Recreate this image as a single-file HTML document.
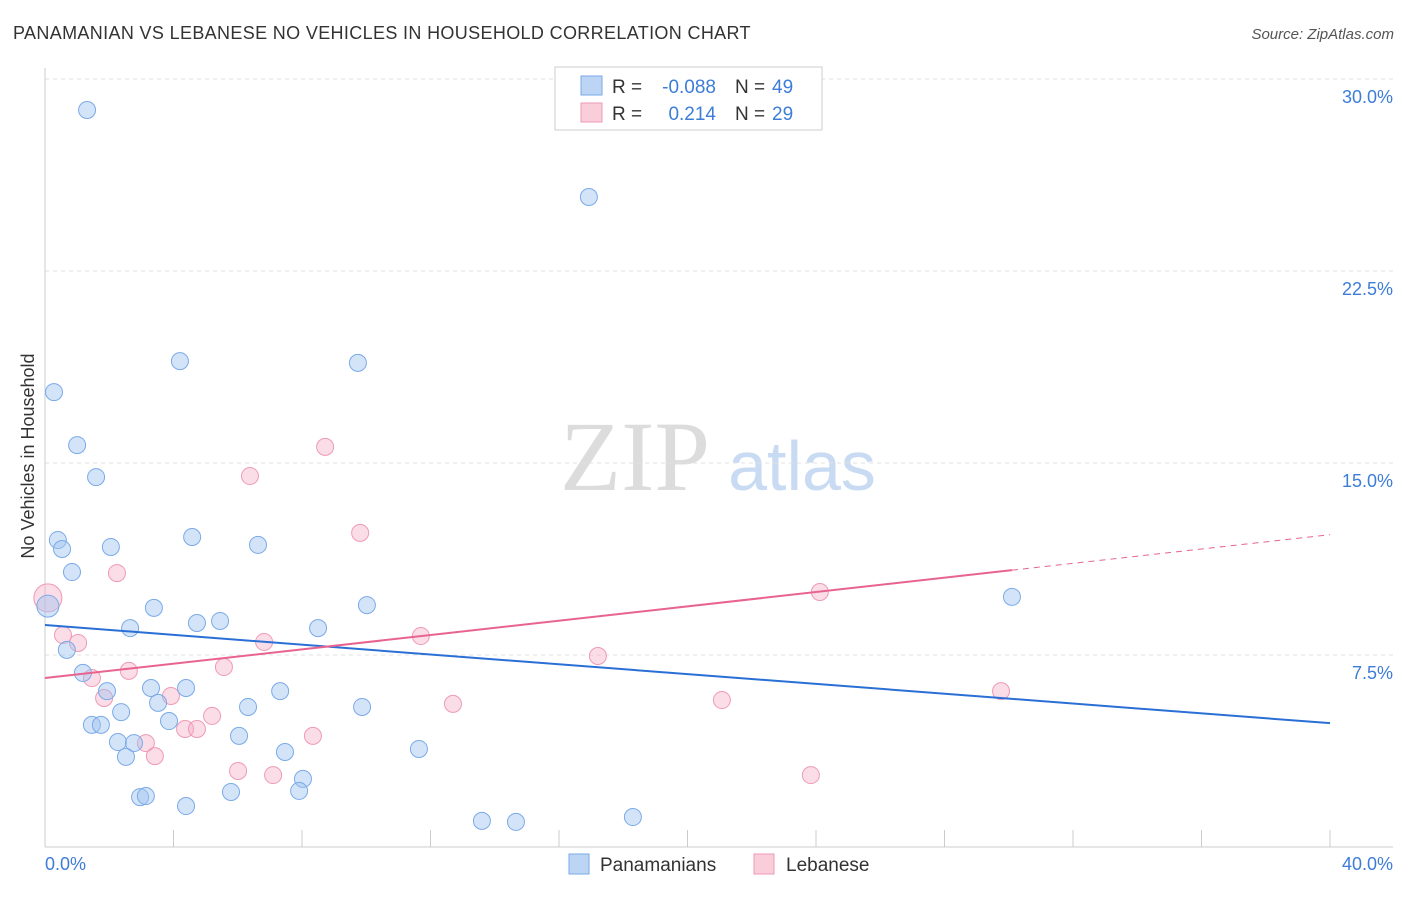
<!DOCTYPE html>
<html><head><meta charset="utf-8"><style>
body{margin:0;background:#fff;font-family:"Liberation Sans",sans-serif}
svg text{font-family:"Liberation Sans",sans-serif}
</style></head><body>
<svg id="c" width="1406" height="892" xmlns="http://www.w3.org/2000/svg">
<text x="13" y="39" font-size="18" fill="#333" letter-spacing="0.35">PANAMANIAN VS LEBANESE NO VEHICLES IN HOUSEHOLD CORRELATION CHART</text>
<text x="1394" y="39" font-size="15" fill="#555" text-anchor="end" font-style="italic">Source: ZipAtlas.com</text>
<text x="34" y="456" font-size="18" fill="#333" text-anchor="middle" transform="rotate(-90 34 456)">No Vehicles in Household</text>
<g><text x="635" y="490" font-size="100" fill="#dcdcdc" text-anchor="middle" style="font-family:'Liberation Serif',serif">ZIP</text><text x="802" y="490" font-size="70" fill="#c9dbf3" text-anchor="middle">atlas</text></g>
<g id="grid"></g><g id="marks"></g><g id="lines"></g>
<g>
<rect x="555" y="67" width="267" height="63" fill="#fff" stroke="#ccc"/>
<rect x="581" y="76" width="21" height="19" fill="#bcd5f5" stroke="#7aaae8"/>
<rect x="581" y="103" width="21" height="19" fill="#f9cdda" stroke="#ef9ab5"/>
<text x="612" y="93" font-size="19" fill="#333">R =</text>
<text x="716" y="93" font-size="19" fill="#3d7dd8" text-anchor="end">-0.088</text>
<text x="735" y="93" font-size="19" fill="#333">N =</text>
<text x="772" y="93" font-size="19" fill="#3d7dd8">49</text>
<text x="612" y="120" font-size="19" fill="#333">R =</text>
<text x="716" y="120" font-size="19" fill="#3d7dd8" text-anchor="end">0.214</text>
<text x="735" y="120" font-size="19" fill="#333">N =</text>
<text x="772" y="120" font-size="19" fill="#3d7dd8">29</text>
</g>
<g>
<rect x="569" y="854" width="20" height="20" fill="#bcd5f5" stroke="#7aaae8"/>
<text x="600" y="871" font-size="19" fill="#333">Panamanians</text>
<rect x="754" y="854" width="20" height="20" fill="#f9cdda" stroke="#ef9ab5"/>
<text x="786" y="871" font-size="19" fill="#333">Lebanese</text>
</g>
</svg>
<script>
const blueX=[1.31,16.93,4.20,9.74,0.28,1.00,1.59,0.40,0.53,2.05,4.58,6.63,0.84,0.09,3.39,10.02,4.73,5.45,2.65,8.50,30.10,0.68,1.18,1.93,3.30,4.39,7.32,3.52,6.32,9.87,2.37,3.86,1.46,1.74,6.04,2.27,2.77,7.47,11.64,2.52,8.03,2.96,3.14,4.39,5.79,7.91,13.60,14.66,18.30];
const blueY=[28.79,25.39,18.98,18.91,17.77,15.70,14.45,11.99,11.64,11.72,12.11,11.80,10.74,9.41,9.34,9.45,8.75,8.83,8.55,8.55,9.77,7.70,6.80,6.09,6.21,6.21,6.09,5.63,5.47,5.47,5.27,4.92,4.77,4.77,4.34,4.10,4.06,3.71,3.83,3.52,2.66,1.95,1.99,1.60,2.15,2.19,1.02,0.98,1.17];
const pinkX=[0.09,0.56,1.03,2.24,2.61,1.46,1.84,3.14,3.42,3.92,4.36,4.73,5.20,5.57,6.01,6.38,6.82,7.10,8.34,8.72,9.81,11.70,12.70,17.21,21.07,23.84,24.12,29.76,21.60];
const pinkY=[9.73,8.28,7.97,10.70,6.88,6.60,5.82,4.06,3.55,5.90,4.61,4.61,5.12,7.03,2.97,14.49,8.01,2.81,4.34,15.63,12.27,8.24,5.59,7.46,5.74,2.81,9.96,6.09,29.96];
const blueTrend=[8.67,-0.0958];
const pinkTrend=[6.60,0.140];
const yTicks=[7.5,15,22.5,30];
const yTickLabels=["7.5%","15.0%","22.5%","30.0%"];
const xLabels=["0.0%","40.0%"];
const NS="http://www.w3.org/2000/svg";
const sx=v=>45+v*32.125, sy=v=>847-v*25.6;
function mk(t,a,p){const e=document.createElementNS(NS,t);for(const k in a)e.setAttribute(k,a[k]);(p||document.getElementById('c')).appendChild(e);return e;}
const grid=document.getElementById('grid');
yTicks.forEach((t,i)=>{
  const l=mk('line',{x1:45,x2:1393,y1:sy(t),y2:sy(t),stroke:'#e2e2e2','stroke-dasharray':'4,4'},grid);
  
  
  const tx=mk('text',{x:1393,y:sy(t)+24,'font-size':18,fill:'#3d7dd8','text-anchor':'end'},grid);
  tx.textContent=yTickLabels[i];
  
  
});
const ax=mk('line',{x1:45,x2:1393,y1:847,y2:847,stroke:'#ccc'},grid);


const ay=mk('line',{x1:45,x2:45,y1:68,y2:847,stroke:'#ccc'},grid);


for(let i=1;i<=10;i++){const t=mk('line',{x1:sx(i*4),x2:sx(i*4),y1:830,y2:847,stroke:'#ccc'},grid);
  
  }
[[0,'start',45],[1,'end',1393]].forEach(([i,a,x])=>{const t=mk('text',{x:x,y:870,'font-size':18,fill:'#3d7dd8','text-anchor':a},grid);t.textContent=xLabels[i];
  
  });
const marks=document.getElementById('marks');
pinkX.forEach((x,i)=>{const c=mk('circle',{cx:sx(x),cy:sy(pinkY[i]),r:i==0?14:8.5,fill:'rgba(244,170,195,0.4)',stroke:'#ef9ab5','stroke-width':1},marks);
  
  });
blueX.forEach((x,i)=>{const c=mk('circle',{cx:sx(x),cy:sy(blueY[i]),r:i==13?11:8.5,fill:'rgba(160,196,240,0.45)',stroke:'#7aaae8','stroke-width':1},marks);
  
  });
const lines=document.getElementById('lines');
const bl=mk('line',{x1:sx(0),y1:sy(blueTrend[0]),x2:sx(40),y2:sy(blueTrend[0]+blueTrend[1]*40),stroke:'#2a6fd6','stroke-width':2},lines);


const pl=mk('line',{x1:sx(0),y1:sy(pinkTrend[0]),x2:sx(30.1),y2:sy(pinkTrend[0]+pinkTrend[1]*30.1),stroke:'#e8648f','stroke-width':2},lines);


const pd=mk('line',{x1:sx(30.1),y1:sy(pinkTrend[0]+pinkTrend[1]*30.1),x2:sx(40),y2:sy(pinkTrend[0]+pinkTrend[1]*40),stroke:'#e8648f','stroke-width':1,'stroke-dasharray':'6,5'},lines);


</script>
</body></html>
